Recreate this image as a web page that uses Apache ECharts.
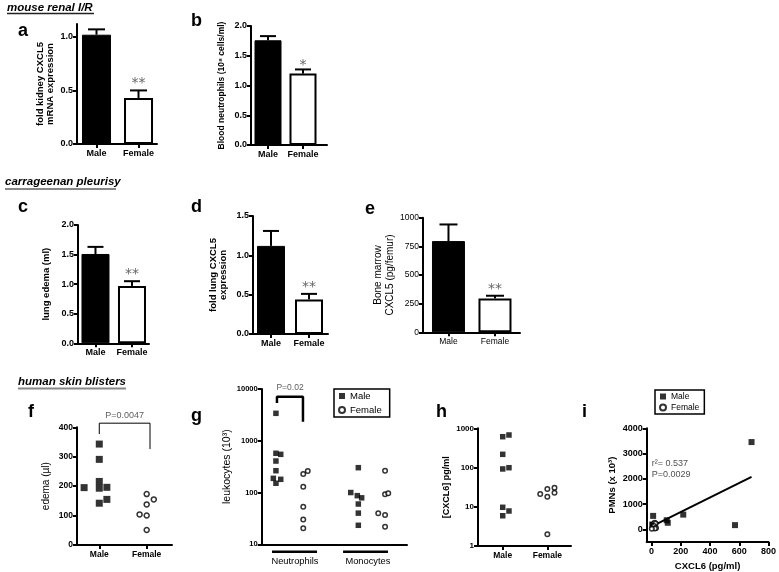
<!DOCTYPE html>
<html><head><meta charset="utf-8">
<script src="https://cdn.jsdelivr.net/npm/echarts@6/dist/echarts.min.js"></script>
<style>html,body{margin:0;padding:0;background:#fff}#c{width:779px;height:572px}</style>
</head><body><div id="c"></div>
<script>
// ---------------- DATA ----------------
const sexCategories = ['Male', 'Female'];
// bar panels: mean, upward SEM, significance marks
const aMean = [1.02, 0.43], aErr = [0.05, 0.07], aSig = ['', '**'];
const bMean = [1.76, 1.20], bErr = [0.07, 0.07], bSig = ['', '*'];
const cMean = [1.51, 0.97], cErr = [0.12, 0.08], cSig = ['', '**'];
const dMean = [1.12, 0.44], dErr = [0.19, 0.07], dSig = ['', '**'];
const eMean = [796, 296], eErr = [145, 23], eSig = ['', '**'];
// tick values
const aTicks = [0, 0.5, 1.0];
const bTicks = [0, 0.5, 1.0, 1.5, 2.0];
const cTicks = [0, 0.5, 1.0, 1.5, 2.0];
const dTicks = [0, 0.5, 1.0, 1.5];
const eTicks = [0, 250, 500, 750, 1000];
const fTicks = [0, 100, 200, 300, 400];
const gTicks = [10, 100, 1000, 10000];
const hTicks = [1, 10, 100, 1000];
const iYTicks = [0, 1000, 2000, 3000, 4000];
const iXTicks = [0, 200, 400, 600, 800];
// f: edema (µl), [category position with jitter, value]
const fMale = [[0, 343], [0, 291], [0, 216], [-0.32, 195], [0, 193], [0.16, 196], [0, 142], [0.16, 155]];
const fFemale = [[1, 173], [1.15, 155], [1, 138], [0.85, 104], [1, 100], [1, 51]];
const fBracket = [[0, 377], [0, 414], [1.07, 414], [1.07, 326]];
const fPText = 'P=0.0047';
// g: leukocytes (10^3), log scale
const gGroups = ['Neutrophils', 'Monocytes'];
const gGroupCenters = [2.29, 7.31];
const gGroupSpans = [[0.71, 3.81], [5.6, 8.69]];
const gMale = [[0.98, 3390], [0.98, 573], [1.31, 547], [0.98, 406], [0.98, 264], [0.80, 188], [1.31, 180], [0.98, 151],
               [6.65, 302], [6.13, 100], [6.58, 87], [6.88, 79], [6.65, 60], [6.65, 40], [6.65, 23.3]];
const gFemale = [[3.17, 260], [2.86, 228], [2.86, 130], [2.86, 53], [2.86, 30], [2.86, 20.4],
                 [8.49, 264], [8.49, 92.5], [8.71, 96.6], [8.02, 39.7], [8.49, 36.8], [8.49, 21.9]];
const gBracket = [[1.05, 5360], [1.05, 7100], [2.84, 7100], [2.84, 2330]];
const gPText = 'P=0.02';
// h: [CXCL6] pg/ml, log scale
const hMale = [[0, 611], [0.14, 675], [0, 217], [0, 92], [0.14, 99], [0, 9.7], [0, 5.9], [0.14, 7.8]];
const hFemale = [[0.84, 21], [1, 28.4], [1, 18], [1.16, 30.6], [1.16, 22.8], [1, 2.0]];
// i: PMNs vs CXCL6
const iMale = [[684, 3455], [571, 168], [217, 584], [104, 362], [111, 261], [11, 533], [6, 190], [8, 180]];
const iFemale = [[21, 260], [28, 228], [18, 130], [31, 53], [23, 30], [2, 20]];
const iFit = [[2, 120], [684, 2076]];
const iStats = 'r²= 0.537\nP=0.0029';
const iStatsAt = [2, 2395];

// ---------------- HELPERS ----------------
const FONT = '"Liberation Sans", Arial, sans-serif';
const grids = [
  {left: 77, top: 24, width: 80, height: 120},        // a
  {left: 251, top: 26, width: 76, height: 119},       // b
  {left: 78, top: 225, width: 71, height: 118.3},     // c
  {left: 253, top: 216, width: 75, height: 118},      // d
  {left: 423, top: 217.7, width: 97, height: 114.6},  // e
  {left: 77, top: 427.3, width: 95, height: 117.7},   // f
  {left: 261.7, top: 389, width: 145.3, height: 155.3}, // g
  {left: 478, top: 428.3, width: 93, height: 117.7},  // h
  {left: 646.7, top: 428.3, width: 125, height: 115}  // i
];
const axLine = {show: true, onZero: false, lineStyle: {color: '#000', width: 2}};
const tick = (vals, show = true) => ({show, length: 4, inside: false, lineStyle: {color: '#000', width: 2}, customValues: vals});
const plain = v => String(v);

function yAx(k, c) {
  return {
    gridIndex: k, type: c.log ? 'log' : 'value', logBase: 10, min: c.min, max: c.max,
    name: c.name, nameLocation: 'middle', nameGap: c.gap,
    nameTextStyle: {fontFamily: FONT, fontSize: c.ns || 9.5, fontWeight: c.nw || 'normal', color: '#000', lineHeight: c.nlh || 11},
    axisLine: axLine,
    axisTick: tick(c.ticks),
    axisLabel: {margin: 4, fontFamily: FONT, fontSize: c.ts || 9, fontWeight: c.tw || 'bold', color: '#000',
      customValues: c.ticks, formatter: c.fmt || plain},
    splitLine: {show: false}, minorTick: {show: false}
  };
}
function xCat(k, min, max, c = {}) {
  return {
    gridIndex: k, type: 'value', min, max,
    axisLine: axLine, axisTick: tick([0, 1]),
    axisLabel: {margin: c.margin || 5, fontFamily: FONT, fontSize: c.ts || 9, fontWeight: c.tw || 'bold', color: '#000',
      customValues: [0, 1], formatter: v => sexCategories[Math.round(v)]},
    splitLine: {show: false}
  };
}
function bars(k, mean, w) {
  return {type: 'bar', xAxisIndex: k, yAxisIndex: k, barWidth: w, silent: true,
    data: mean.map((v, i) => ({value: [i, v], itemStyle: i === 0 ? {color: '#000', borderColor: '#000', borderWidth: 1}
      : {color: '#fff', borderColor: '#000', borderWidth: 2}}))};
}
function errs(k, mean, err, sig, cap, sigOff) {
  return {type: 'custom', xAxisIndex: k, yAxisIndex: k, z: 5, silent: true, clip: false,
    data: mean.map((v, i) => [i, v, err[i]]),
    renderItem(params, api) {
      const x = api.value(0), m = api.value(1), e = api.value(2);
      const p0 = api.coord([x, m]), p1 = api.coord([x, m + e]);
      const ch = [
        {type: 'line', shape: {x1: p0[0], y1: p0[1], x2: p1[0], y2: p1[1]}, style: {stroke: '#000', lineWidth: 2}},
        {type: 'line', shape: {x1: p1[0] - cap / 2, y1: p1[1], x2: p1[0] + cap / 2, y2: p1[1]}, style: {stroke: '#000', lineWidth: 2}}
      ];
      const s = sig[params.dataIndex];
      if (s) ch.push({type: 'text', x: p1[0], y: p1[1] - sigOff,
        style: {text: s, font: '14px "DejaVu Sans"', fill: '#666', align: 'center', verticalAlign: 'middle'}});
      return {type: 'group', children: ch};
    }};
}
function pts(k, data, male, size, name) {
  return {type: 'scatter', name, xAxisIndex: k, yAxisIndex: k, data, silent: true, z: 4,
    symbol: male ? 'rect' : 'circle', symbolSize: male ? size : size - 1,
    itemStyle: male ? {color: '#000'} : {color: '#fff', borderColor: '#000', borderWidth: 1.5}};
}
function polyline(k, data, w) {
  return {type: 'line', xAxisIndex: k, yAxisIndex: k, data, symbol: 'none', clip: false, silent: true,
    lineStyle: {color: '#000', width: w}, z: 3};
}
function note(k, at, text, pos, size, extra = {}) {
  return {type: 'scatter', xAxisIndex: k, yAxisIndex: k, data: [at], symbolSize: 0, clip: false, silent: true,
    label: Object.assign({show: true, position: pos, formatter: text, fontFamily: FONT, fontSize: size, color: '#222'}, extra)};
}
const fmt1 = v => v.toFixed(1);

// ---------------- OPTION ----------------
const xAxis = [
  xCat(0, -0.464, 1.44),
  xCat(1, -0.486, 1.686),
  xCat(2, -0.479, 1.466),
  xCat(3, -0.474, 1.5),
  xCat(4, -0.548, 1.538, {tw: 'normal', ts: 8.5}),
  xCat(5, -0.47, 1.534, {ts: 8.5}),
  {gridIndex: 6, type: 'value', min: 0, max: 10, axisLine: axLine, axisTick: {show: false},
    axisLabel: {margin: 13, fontFamily: FONT, fontSize: 9.3, color: '#000', customValues: gGroupCenters,
      formatter: v => gGroups[gGroupCenters.indexOf(v)]}, splitLine: {show: false}},
  xCat(7, -0.554, 1.53, {ts: 8.5}),
  {gridIndex: 8, type: 'value', min: -33, max: 800, name: 'CXCL6 (pg/ml)', nameLocation: 'middle', nameGap: 19,
    nameTextStyle: {fontFamily: FONT, fontSize: 9.5, fontWeight: 'bold', color: '#000'},
    axisLine: axLine, axisTick: tick(iXTicks),
    axisLabel: {margin: 5, fontFamily: FONT, fontSize: 9, fontWeight: 'bold', color: '#000', customValues: iXTicks},
    splitLine: {show: false}}
];
const yAxis = [
  yAx(0, {min: 0, max: 1.12, ticks: aTicks, fmt: fmt1, name: 'fold kidney CXCL5\nmRNA expression', gap: 22, nw: 'bold', ns: 9.5, nlh: 10}),
  yAx(1, {min: 0, max: 2.0, ticks: bTicks, fmt: fmt1, name: 'Blood neutrophils (10⁸ cells/ml)', gap: 24, nw: 'bold', ns: 8.5}),
  yAx(2, {min: 0, max: 2.0, ticks: cTicks, fmt: fmt1, name: 'lung edema (ml)', gap: 26, nw: 'bold', ns: 9.5}),
  yAx(3, {min: 0, max: 1.5, ticks: dTicks, fmt: fmt1, name: 'fold lung CXCL5\nexpression', gap: 25, nw: 'bold', ns: 9.5, nlh: 10}),
  yAx(4, {min: 0, max: 1000, ticks: eTicks, name: 'Bone marrow\nCXCL5 (pg/femur)', gap: 25, ns: 10, nlh: 12, tw: 'normal', ts: 8.5}),
  yAx(5, {min: 0, max: 400, ticks: fTicks, name: 'edema (µl)', gap: 25, ns: 10, ts: 8.5}),
  yAx(6, {log: true, min: 10, max: 10000, ticks: gTicks, name: 'leukocytes (10³)', gap: 27, ns: 10.5, ts: 7.5}),
  yAx(7, {log: true, min: 1, max: 1000, ticks: hTicks, name: '[CXCL6] pg/ml', gap: 25, ns: 9, nw: 'bold', ts: 8}),
  yAx(8, {min: -500, max: 4000, ticks: iYTicks, name: 'PMNs (x 10³)', gap: 29, ns: 9.5, nw: 'bold', ts: 9})
];
const series = [
  bars(0, aMean, 29), errs(0, aMean, aErr, aSig, 17, 7),
  bars(1, bMean, 27), errs(1, bMean, bErr, bSig, 16, 4),
  bars(2, cMean, 28), errs(2, cMean, cErr, cSig, 16, 7),
  bars(3, dMean, 28), errs(3, dMean, dErr, dSig, 16, 7),
  bars(4, eMean, 33), errs(4, eMean, eErr, eSig, 18, 6),
  pts(5, fMale, true, 7, 'f-male'), pts(5, fFemale, false, 6, 'f-female'),
  polyline(5, fBracket, 1), note(5, [0.535, 414], fPText, 'top', 9, {distance: 3, color: '#333'}),
  pts(6, gMale, true, 5.5, 'Male'), pts(6, gFemale, false, 5.5, 'Female'),
  polyline(6, gBracket, 2.5), note(6, [1.95, 7100], gPText, 'top', 8.5, {distance: 5, color: '#333'}),
  polyline(6, gGroupSpans[0].map(x => [x, 7.2]), 2.5),
  polyline(6, gGroupSpans[1].map(x => [x, 7.2]), 2.5),
  pts(7, hMale, true, 5.5, 'h-male'), pts(7, hFemale, false, 5.5, 'h-female'),
  polyline(8, iFit, 2),
  pts(8, iMale, true, 6, 'Male'), pts(8, iFemale, false, 5.5, 'Female'),
  note(8, iStatsAt, iStats, 'right', 9, {distance: 0, lineHeight: 11, align: 'left', color: '#222'})
];
const legendBase = {orient: 'vertical', selectedMode: false, borderColor: '#000', borderWidth: 1.5,
  itemWidth: 6, itemHeight: 6, textStyle: {fontFamily: FONT, color: '#000'},
  data: [{name: 'Male', icon: 'rect'}, {name: 'Female', icon: 'circle'}]};
const legend = [
  Object.assign({}, legendBase, {left: 334, top: 389, padding: [2, 8, 2, 4], itemGap: 4, textStyle: {fontFamily: FONT, fontSize: 9.5, color: '#000'}}),
  Object.assign({}, legendBase, {left: 655, top: 390, padding: [2, 5, 2, 4], itemGap: 2, textStyle: {fontFamily: FONT, fontSize: 8.5, color: '#000'}})
];
const LET = 'bold 18px "Liberation Sans", Arial, sans-serif';
const TIT = 'italic bold 11.5px "Liberation Sans", Arial, sans-serif';
const letter = (t, x, top) => ({type: 'text', left: x, top, style: {text: t, font: LET, fill: '#000'}});
const graphic = [
  {type: 'text', left: 7, top: 2, style: {text: 'mouse renal I/R', font: TIT, fill: '#000'}},
  {type: 'line', shape: {x1: 7, y1: 13.5, x2: 94, y2: 13.5}, style: {stroke: '#222', lineWidth: 1.5}},
  {type: 'text', left: 5, top: 176, style: {text: 'carrageenan pleurisy', font: TIT, fill: '#000'}},
  {type: 'line', shape: {x1: 5, y1: 189, x2: 116, y2: 189}, style: {stroke: '#888', lineWidth: 2}},
  {type: 'text', left: 18, top: 376, style: {text: 'human skin blisters', font: TIT, fill: '#000'}},
  {type: 'line', shape: {x1: 18, y1: 388.5, x2: 126, y2: 388.5}, style: {stroke: '#888', lineWidth: 2}},
  letter('a', 18, 21.7), letter('b', 191, 11.7), letter('c', 18, 197.7), letter('d', 191, 197.7),
  letter('e', 365, 199.7), letter('f', 28, 402.7), letter('g', 191, 406.7), letter('h', 436, 402.7), letter('i', 582, 402.7)
];
const chart = echarts.init(document.getElementById('c'), null, {renderer: 'canvas'});
chart.setOption({animation: false, backgroundColor: '#fff', textStyle: {fontFamily: FONT},
  grid: grids, xAxis, yAxis, series, legend, graphic});
</script></body></html>
